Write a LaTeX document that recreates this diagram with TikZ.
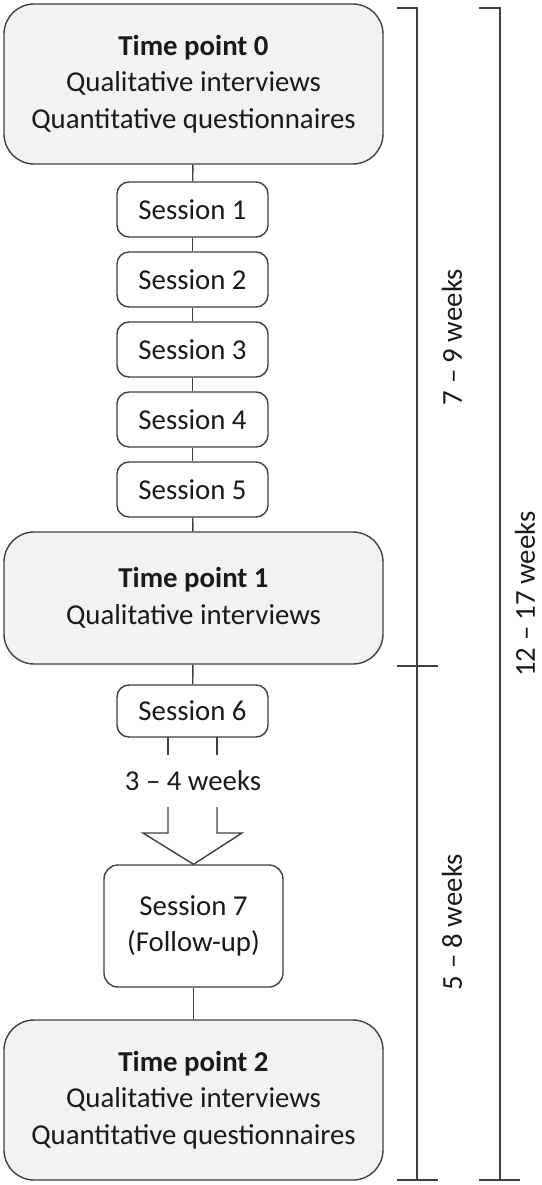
\documentclass[tikz,border=0pt]{standalone}
\usepackage{fontspec}
\setmainfont{Carlito}
\definecolor{linec}{HTML}{404040}
\definecolor{boxfill}{HTML}{F2F2F2}
\definecolor{txt}{HTML}{1A1A1A}
\begin{document}
\begin{tikzpicture}[x=1pt,y=1pt,
  every node/.style={text=txt, font=\fontsize{28.8}{36.5}\selectfont},
  bigbox/.style={draw=linec, line width=1.4pt, fill=boxfill, rounded corners=30pt, minimum width=379pt, align=center, inner sep=0pt},
  sess/.style={draw=linec, line width=1.4pt, fill=white, rounded corners=12pt, minimum width=151pt, minimum height=55pt, inner sep=0pt},
  conn/.style={draw=linec, line width=1.4pt},
  brk/.style={draw=linec, line width=1.8pt},
  lab/.style={rotate=90, inner sep=0pt}]
\useasboundingbox (0,0) rectangle (541,-1185);
\node[bigbox, minimum height=160pt] (tp0) at (193.5,-84) {\textbf{Time point 0}\\Qualitative interviews\\Quantitative questionnaires};
\node[sess] (s1) at (192.5,-209.5) {Session 1};
\node[sess] (s2) at (192.5,-279.5) {Session 2};
\node[sess] (s3) at (192.5,-349.5) {Session 3};
\node[sess] (s4) at (192.5,-419.5) {Session 4};
\node[sess] (s5) at (192.5,-489.5) {Session 5};
\node[bigbox, minimum height=132pt] (tp1) at (193.5,-598) {\textbf{Time point 1}\\Qualitative interviews};
\node[sess, minimum height=52pt] (s6) at (192.5,-711) {Session 6};
\node[draw=linec, line width=1.4pt, fill=white, rounded corners=14pt, minimum width=179pt, minimum height=122pt, align=center, inner sep=0pt] (s7) at (193.5,-926) {Session 7\\(Follow-up)};
\node[bigbox, minimum height=160pt] (tp2) at (193.5,-1100) {\textbf{Time point 2}\\Qualitative interviews\\Quantitative questionnaires};
\draw[conn] (tp0) -- (s1);
\draw[conn] (s1) -- (s2);
\draw[conn] (s2) -- (s3);
\draw[conn] (s3) -- (s4);
\draw[conn] (s4) -- (s5);
\draw[conn] (s5) -- (tp1);
\draw[conn] (tp1) -- (s6);
\draw[conn] (s7) -- (tp2);
% broad arrow
\node (gap) at (193,-781) {3 – 4 weeks};
\draw[conn] (168,-737) -- (168,-755);
\draw[conn] (217,-737) -- (217,-755);
\draw[conn, line join=miter] (168,-807) -- (168,-833) -- (143,-833) -- (s7.north) -- (242,-833) -- (217,-833) -- (217,-807);
% brackets
\draw[brk] (397,-8) -- (417,-8) -- (417,-1180);
\draw[brk] (397,-1180) -- (438,-1180);
\draw[brk] (397,-666) -- (438,-666);
\draw[brk] (479,-8) -- (500,-8) -- (500,-1180);
\draw[brk] (479,-1180) -- (520,-1180);
\node[lab] (l1) at (452,-337) {7 – 9 weeks};
\node[lab] (l2) at (452,-922) {5 – 8 weeks};
\node[lab] (l3) at (525,-594) {12 – 17 weeks};
\end{tikzpicture}
\end{document}
